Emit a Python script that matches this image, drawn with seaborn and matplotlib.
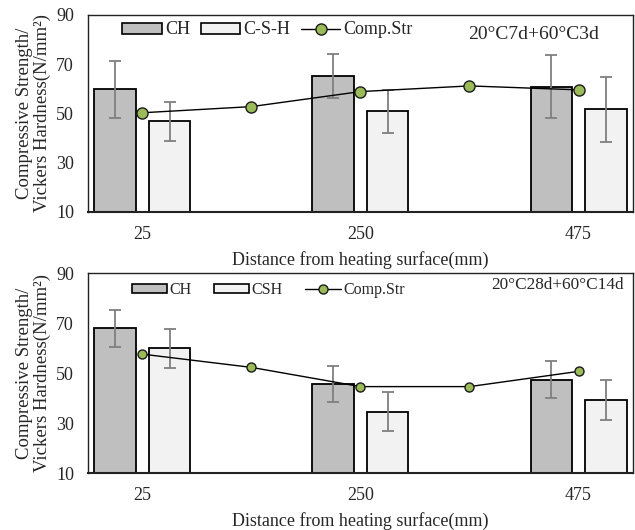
import pandas as pd
import matplotlib.pyplot as plt
import seaborn as sns
from matplotlib.patches import Patch
from matplotlib.lines import Line2D

# distances along the specimen (mm)
distance = [25, 250, 475]
comp_distance = [25, 137.5, 250, 362.5, 475]

# top panel: 20°C7d+60°C3d
ch_top = [59.8, 65.1, 60.9]
ch_top_err = [11.5, 9.0, 12.8]
csh_top = [46.8, 50.9, 51.8]
csh_top_err = [8.0, 8.7, 13.2]
comp_top = [50.3, 52.8, 58.9, 61.2, 59.6]

# bottom panel: 20°C28d+60°C14d
ch_bot = [67.9, 45.7, 47.3]
ch_bot_err = [7.4, 7.2, 7.4]
csh_bot = [59.9, 34.5, 39.3]
csh_bot_err = [7.8, 7.8, 7.9]
comp_bot = [57.6, 52.3, 44.6, 44.6, 50.7]

sns.set_style('white')
plt.rcParams['font.family'] = ['Liberation Serif', 'DejaVu Serif']

ch_color = '#bfbfbf'
csh_color = '#f2f2f2'
green = '#9bbb59'


def panel(ax, ch, ch_err, csh, csh_err, comp, labels, note, note_pos, note_fs,
          legend_fs, legend_anchor, colspace, msize):
    df = pd.DataFrame({
        'dist': distance * 2,
        'val': ch + csh,
        'kind': ['CH'] * 3 + ['CSH'] * 3,
    })
    sns.barplot(data=df, x='dist', y='val', hue='kind', native_scale=True,
                palette=[ch_color, csh_color], width=0.5, gap=0.24,
                edgecolor='black', linewidth=1.3, errorbar=None, legend=False, ax=ax)
    errs = ch_err + csh_err
    for p, e in zip(ax.patches, errs):
        ax.errorbar(p.get_x() + p.get_width() / 2, p.get_height(), yerr=e,
                    fmt='none', ecolor='#7f7f7f', elinewidth=1.3, capsize=4.5,
                    capthick=1.3, zorder=4)
    sns.lineplot(x=comp_distance, y=comp, color='black', linewidth=1.0,
                 marker='o', markersize=msize, markerfacecolor=green,
                 markeredgecolor='#1a1a1a', markeredgewidth=1.0, ax=ax, zorder=5)
    ax.set_xlim(-31, 531)
    ax.set_ylim(10, 90)
    ax.set_yticks([10, 30, 50, 70, 90])
    ax.set_xticks(distance)
    ax.set_xticklabels([str(d) for d in distance])
    ax.tick_params(labelsize=13, length=0)
    ax.tick_params(axis='x', pad=10)
    ax.tick_params(axis='y', pad=10)
    ax.set_xlabel('Distance from heating surface(mm)', fontsize=13, labelpad=6)
    ax.set_ylabel('Compressive Strength/\nVickers Hardness(N/mm²)', fontsize=13.5,
                  labelpad=4, linespacing=1.0)
    for s in ax.spines.values():
        s.set_color('#222222')
        s.set_linewidth(1.0)
    ax.spines['bottom'].set_linewidth(1.5)
    handles = [
        Patch(facecolor=ch_color, edgecolor='black', linewidth=1.2, label=labels[0]),
        Patch(facecolor=csh_color, edgecolor='black', linewidth=1.2, label=labels[1]),
        Line2D([], [], color='black', linewidth=1.0, marker='o', markersize=msize,
               markerfacecolor=green, markeredgecolor='#1a1a1a', label='Comp.Str'),
    ]
    ax.legend(handles=handles, ncol=3, frameon=False, loc='center left',
              bbox_to_anchor=legend_anchor, fontsize=legend_fs, handlelength=2.2,
              handleheight=0.55, handletextpad=0.15, columnspacing=colspace,
              borderpad=0, borderaxespad=0)
    ax.text(note_pos[0], note_pos[1], note, transform=ax.transAxes, ha='center',
            va='center', fontsize=note_fs)


fig = plt.figure(figsize=(6.35, 5.3), dpi=100)
ax1 = fig.add_axes([0.1386, 0.600, 0.858, 0.3717])
ax2 = fig.add_axes([0.1386, 0.1075, 0.858, 0.377])

panel(ax1, ch_top, ch_top_err, csh_top, csh_top_err, comp_top,
      ['CH', 'C-S-H'], '20°C7d+60°C3d', (0.817, 0.90), 14,
      13, (0.063, 0.924), 0.6, 8)
panel(ax2, ch_bot, ch_bot_err, csh_bot, csh_bot_err, comp_bot,
      ['CH', 'CSH'], '20°C28d+60°C14d', (0.862, 0.94), 12.4,
      11.5, (0.081, 0.915), 1.4, 6.5)

fig.savefig('out.png', dpi=100)
